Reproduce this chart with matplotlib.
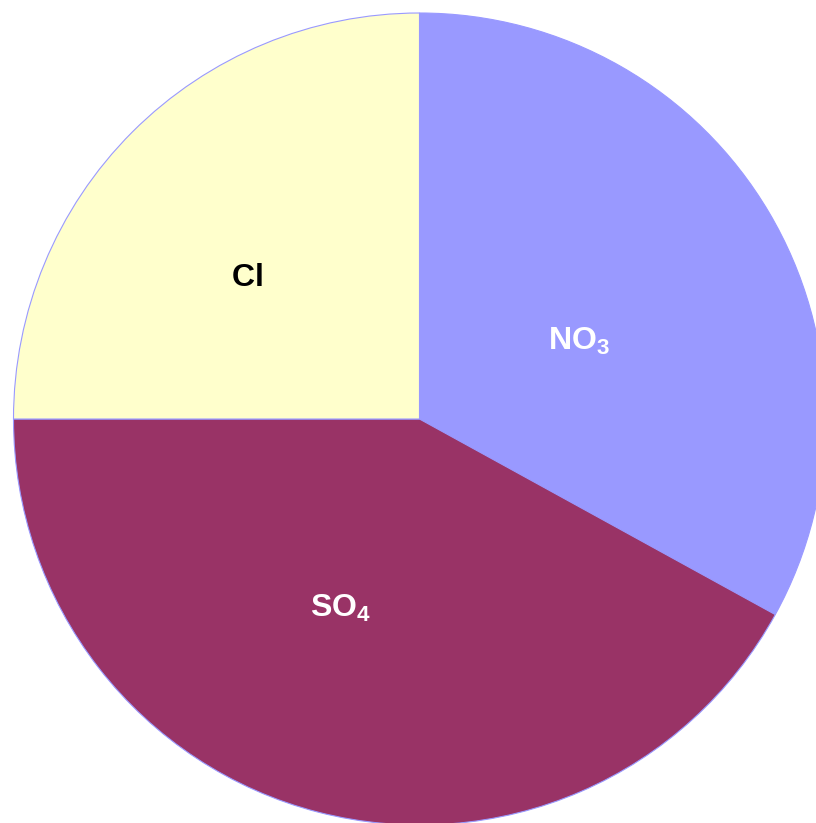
import matplotlib
matplotlib.use("Agg")
import matplotlib.pyplot as plt

plt.rcParams['font.family'] = ['Liberation Sans', 'DejaVu Sans']
plt.rcParams['mathtext.fontset'] = 'custom'
plt.rcParams['mathtext.rm'] = 'Liberation Sans'
plt.rcParams['mathtext.bf'] = 'Liberation Sans:bold'

labels = [r'$\mathbf{NO_3}$', r'$\mathbf{SO_4}$', r'$\mathbf{Cl}$']
values = [33, 42, 25]
colors = ['#9999FF', '#993366', '#FFFFCC']
text_colors = ['white', 'white', 'black']

W, H = 816, 823
cx, cy, R = 419.5, 419, 406

fig = plt.figure(figsize=(W / 100, H / 100), dpi=100)
ax = fig.add_axes([0, 0, 1, 1])
wedges, texts = ax.pie(values, labels=labels, colors=colors, startangle=90,
                       counterclock=False, radius=1.0, labeldistance=0.5,
                       wedgeprops=dict(edgecolor='#9999FF', linewidth=0.8),
                       textprops=dict(fontsize=23))
# label placement (layout offsets, in radius units)
label_pos = [(0.392, 0.192), (-0.195, -0.466), (-0.424, 0.347)]
for t, c, p in zip(texts, text_colors, label_pos):
    t.set_color(c)
    t.set_position(p)
    t.set_ha('center')
    t.set_va('center')

ax.set_aspect('auto')
ax.set_xlim(-cx / R, (W - cx) / R)
ax.set_ylim(-(H - cy) / R, cy / R)
ax.axis('off')
fig.savefig('out.png', dpi=100, facecolor='white')
